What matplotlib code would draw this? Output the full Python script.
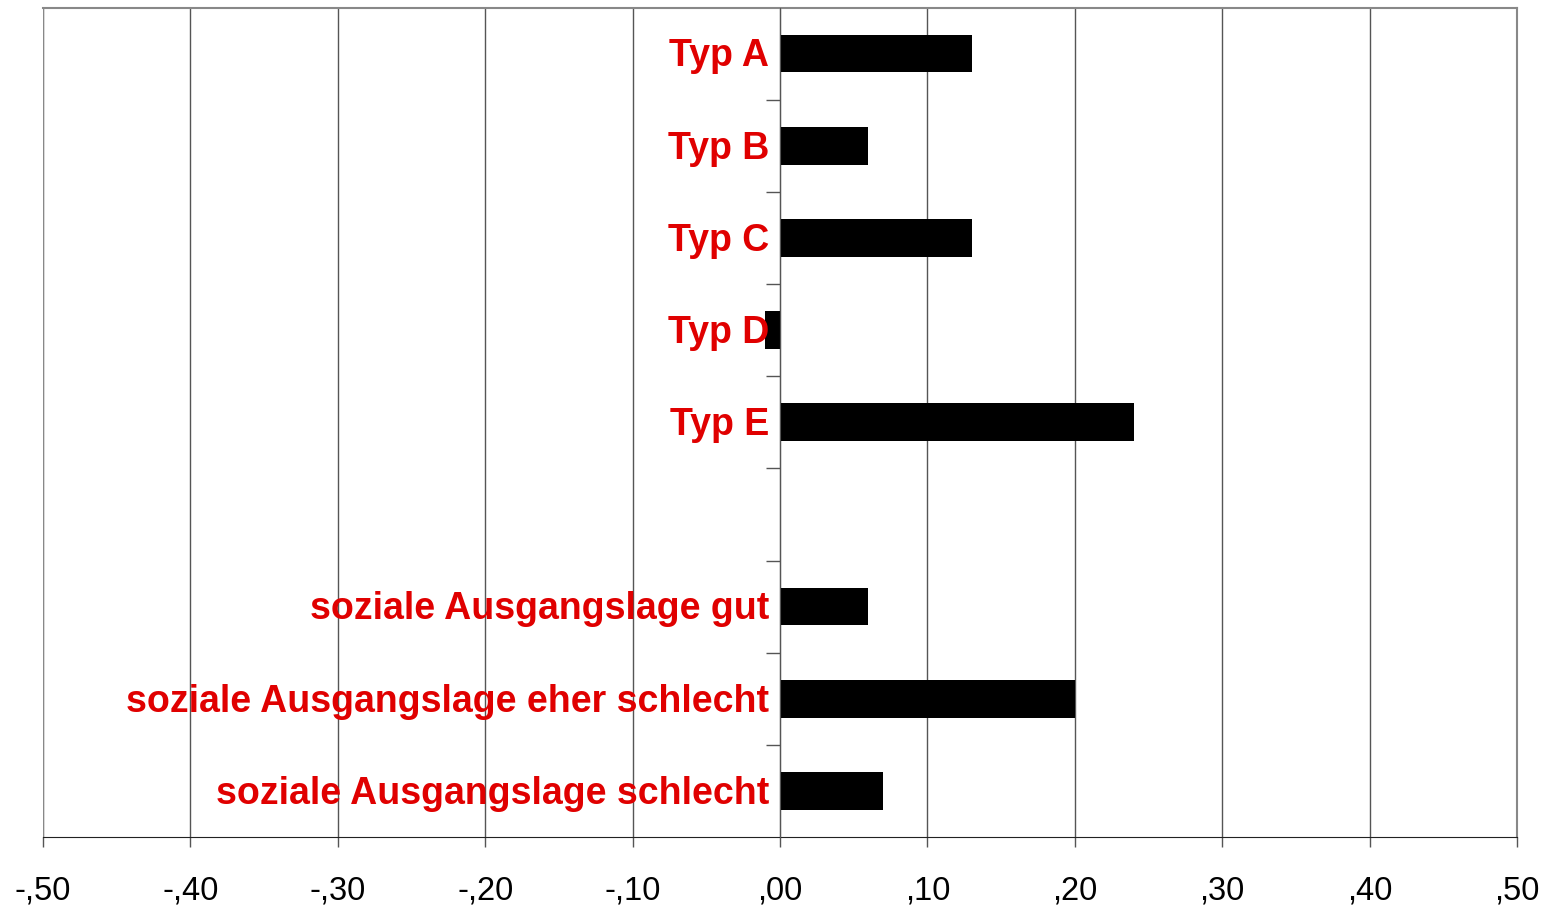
import matplotlib
matplotlib.use("Agg")
import matplotlib.pyplot as plt
import numpy as np
from matplotlib.transforms import offset_copy

categories = ["Typ A", "Typ B", "Typ C", "Typ D", "Typ E", "",
              "soziale Ausgangslage gut", "soziale Ausgangslage eher schlecht",
              "soziale Ausgangslage schlecht"]
values = [0.13, 0.06, 0.13, -0.01, 0.24, np.nan, 0.06, 0.20, 0.07]
xticks = [-0.5, -0.4, -0.3, -0.2, -0.1, 0.0, 0.1, 0.2, 0.3, 0.4, 0.5]
xticklabels = ["-,50", "-,40", "-,30", "-,20", "-,10", ",00", ",10", ",20", ",30", ",40", ",50"]

plt.rcParams['font.family'] = ['Liberation Sans', 'DejaVu Sans']

W, H = 1546, 908
fig = plt.figure(figsize=(W / 100, H / 100), dpi=100)
ax = fig.add_axes([43 / W, 1 - 837 / H, (1517 - 43) / W, (837 - 7.5) / H])

n = len(categories)
ypos = np.arange(n)
vals = np.array(values, dtype=float)
mask = ~np.isnan(vals)
ax.barh(ypos[mask], vals[mask], height=0.41, color='black', zorder=3)

ax.set_xlim(-0.5, 0.5)
ax.set_ylim(n - 0.5, -0.5)

ax.set_xticks(xticks)
ax.set_xticklabels(xticklabels, fontsize=23.5)
ax.tick_params(axis='x', direction='out', length=7.5, width=1, color='#555555', pad=20)
ax.grid(axis='x', color='#555555', linewidth=1, zorder=0)

# y ticks at category boundaries on the zero axis
ax.set_yticks(np.arange(0.5, n - 0.5, 1.0))
ax.set_yticklabels([])
ax.tick_params(axis='y', direction='out', length=10, width=1, color='#555555')
ax.spines['left'].set_position(('data', 0))
ax.spines['left'].set_color('#555555')
ax.spines['left'].set_zorder(4)
ax.spines['top'].set_color('#888888')
ax.spines['top'].set_linewidth(1.5)
ax.spines['right'].set_color('#888888')
ax.spines['right'].set_linewidth(1.5)
ax.spines['bottom'].set_color('#222222')
ax.axvline(-0.5, color='#888888', linewidth=1.5, zorder=2)

trans = offset_copy(ax.transData, fig=fig, x=-8, y=-2, units='points')
for y, lab in zip(ypos, categories):
    if lab:
        ax.text(0, y, lab, transform=trans, ha='right', va='center',
                color='#e00000', fontsize=27, fontweight='bold', zorder=5)

fig.savefig("out.png", dpi=100)
